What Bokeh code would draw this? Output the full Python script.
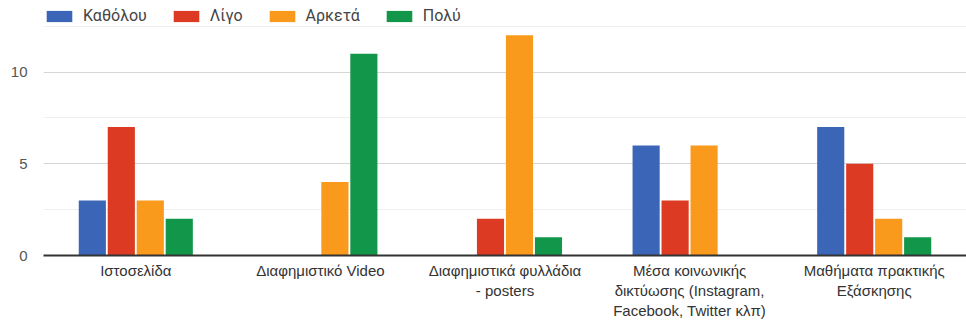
from bokeh.plotting import figure
from bokeh.models import (ColumnDataSource, Range1d, FixedTicker, SingleIntervalTicker,
                          Legend, LegendItem)
from bokeh.embed import file_html
from bokeh.resources import INLINE

# Survey answers per promotion channel
categories = [
    "Ιστοσελίδα",
    "Διαφημιστικό Video",
    "Διαφημιστικά φυλλάδια\n- posters",
    "Μέσα κοινωνικής\nδικτύωσης (Instagram,\nFacebook, Twitter κλπ)",
    "Μαθήματα πρακτικής\nΕξάσκησης",
]
series_names = ["Καθόλου", "Λίγο", "Αρκετά", "Πολύ"]
katholou = [3, 0, 0, 6, 7]
ligo = [7, 0, 2, 3, 5]
arketa = [3, 4, 12, 6, 2]
poly = [2, 11, 1, 0, 1]
series_values = [katholou, ligo, arketa, poly]
colors = ["#3B66B8", "#DC3A22", "#F99A1C", "#12964A"]

FONT = "Liberation Sans"
LEGEND_FONT = "Roboto"

# frame spans the full height above the axis; the legend sits in its top band
p = figure(width=966, height=322, output_backend="svg", toolbar_location=None,
           x_range=Range1d(-0.5, 4.5), y_range=Range1d(0, 13.9),
           min_border_left=43, min_border_right=0, min_border_top=0,
           min_border_bottom=66)
p.outline_line_color = None
p.background_fill_color = "white"
p.border_fill_color = "white"

step = 0.157
bar_w = 0.147
items = []
for k, (name, vals, col) in enumerate(zip(series_names, series_values, colors)):
    off = (k - 1.5) * step
    src = ColumnDataSource(dict(x=[i + off for i in range(len(categories))], top=vals))
    r = p.vbar(x="x", top="top", bottom=0, width=bar_w, source=src,
               fill_color=col, line_color=None)
    items.append(LegendItem(label=name, renderers=[r]))

# y axis: ticks every 5, light minor grid halfway
p.yaxis.ticker = SingleIntervalTicker(interval=5, num_minor_ticks=2)
p.yaxis.axis_line_color = None
p.yaxis.major_tick_line_color = None
p.yaxis.minor_tick_line_color = None
p.yaxis.major_label_text_font = FONT
p.yaxis.major_label_text_font_size = "15px"
p.yaxis.major_label_text_color = "#555555"
p.yaxis.major_label_standoff = 10

p.ygrid.ticker = SingleIntervalTicker(interval=5, num_minor_ticks=2)
p.ygrid.grid_line_color = "#d6d6d6"
p.ygrid.minor_grid_line_color = "#efefef"
p.xgrid.grid_line_color = None

# x axis: category labels below the zero line
p.xaxis.ticker = FixedTicker(ticks=list(range(len(categories))))
p.xaxis.major_label_overrides = {i: c for i, c in enumerate(categories)}
p.xaxis.axis_line_color = "#333333"
p.xaxis.axis_line_width = 2
p.xaxis.major_tick_line_color = None
p.xaxis.minor_tick_line_color = None
p.xaxis.major_label_text_font = FONT
p.xaxis.major_label_text_font_size = "15px"
p.xaxis.major_label_text_color = "#333333"
p.xaxis.major_label_standoff = 0

legend = Legend(items=items, orientation="horizontal", location=(0, 230),
                glyph_width=32, glyph_height=14, label_height=14,
                label_standoff=8, spacing=23,
                padding=0, margin=0, label_text_font=LEGEND_FONT,
                label_text_font_size="16px", label_text_color="#444444",
                background_fill_alpha=0, border_line_color=None)
p.add_layout(legend, "center")

open("out.html", "w").write(file_html(p, INLINE))
